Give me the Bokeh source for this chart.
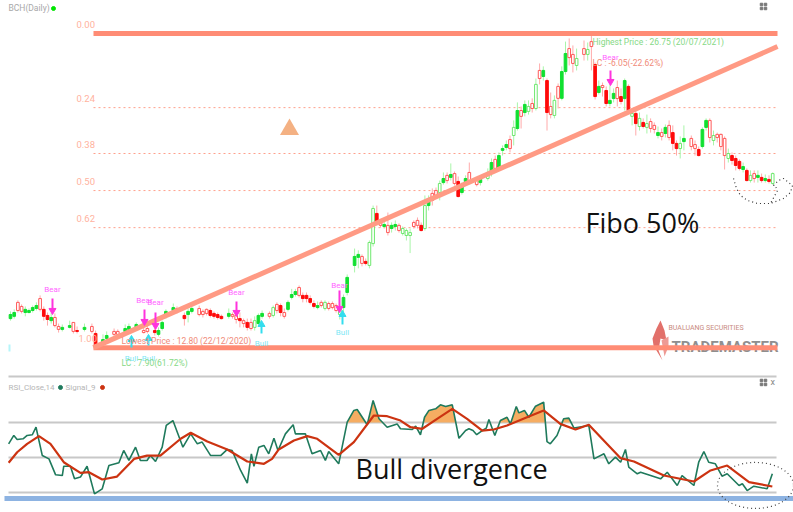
from bokeh.plotting import figure
from bokeh.models import Range1d
from bokeh.core.properties import value
from bokeh.embed import file_html
from bokeh.resources import INLINE
import numpy as np

# ---------- price data (daily candles) ----------
bar_index = [0,1,2,3,4,5,6,7,8,9,10,11,12,13,14,16,17,18,20,22,23,25,26,28,29,31,32,34,36,37,39,40,41,42,44,45,47,48,49,51,52,53,54,55,56,57,59,60,61,62,63,64,65,66,67,68,70,71,72,73,74,75,76,77,78,79,80,81,82,83,84,85,86,87,88,89,90,91,93,94,95,96,97,98,99,100,101,102,103,104,105,106,107,108,109,110,111,112,113,114,115,116,117,118,119,120,121,122,123,124,126,127,129,130,131,132,133,134,135,136,137,138,139,140,141,142,143,144,145,146,147,148,149,150,151,152,153,155,156,157,158,159,160,161,162,163,164,165,166,167,168,169,170,171,172,173,174,175,176,177,178,179,180,181,182,184,185,186,187,188,189,190,191,192,193,194,195,196,197,198,199,200,201,202,203,204,205,206]
red_bars = [2,3,8,9,10,12,13,17,18,22,23,28,29,36,37,39,45,47,51,52,53,54,55,56,57,60,61,62,63,64,65,70,72,73,74,78,79,80,81,82,84,86,87,88,95,96,99,100,102,105,109,110,111,114,115,118,120,121,124,126,131,135,138,141,143,145,146,148,151,152,155,157,158,160,161,164,165,167,169,171,173,174,176,178,179,180,184,185,186,189,191,192,193,195,196,197,199,201,203,205]
opens = [14.27,14.36,14.45,14.41,14.50,14.45,14.58,14.67,14.50,14.50,14.23,14.14,13.78,13.61,13.70,13.78,13.52,13.56,13.70,13.52,13.43,13.16,13.34,13.39,13.39,13.65,13.74,13.83,13.47,13.52,13.56,13.56,13.92,14.41,14.58,14.41,14.23,14.41,14.54,14.27,14.27,14.32,14.45,14.32,14.27,14.19,14.32,14.19,14.05,14.09,13.87,13.92,13.65,13.70,14.23,14.32,14.19,14.23,14.45,14.67,14.19,14.81,15.16,15.29,15.12,15.12,15.12,14.98,14.76,14.67,14.67,14.54,14.54,14.58,14.45,14.27,15.03,15.92,16.85,16.94,16.54,16.63,16.45,17.42,18.76,18.23,18.27,17.91,18.23,18.27,18.0,17.87,17.78,17.78,18.18,18.23,18.23,18.09,19.42,19.34,19.56,19.69,20.31,20.22,20.49,20.09,20.18,19.96,20.31,20.22,20.04,20.27,20.31,21.02,20.76,21.33,21.64,21.82,21.64,22.22,23.33,23.07,23.60,23.29,23.42,23.42,24.75,25.11,24.66,23.15,23.11,23.87,25.06,25.86,25.68,25.42,25.33,25.82,25.82,26.17,25.37,24.40,24.35,24.22,23.78,24.09,23.86,23.95,24.66,24.40,23.07,23.20,22.62,22.80,22.58,22.53,22.49,22.35,22.18,22.58,22.13,22.35,21.87,21.64,22.09,21.73,21.64,21.60,22.49,22.89,22.13,22.0,22.13,21.73,21.33,21.20,21.33,21.20,21.07,20.84,20.67,20.22,20.31,20.45,20.36,20.31,20.27,20.09]
highs = [14.41,14.50,14.9,14.72,14.63,14.54,14.67,14.81,15.12,14.63,14.36,14.36,14.32,13.87,13.83,14.0,13.92,13.74,13.87,13.87,13.56,13.39,13.52,13.65,13.61,13.83,13.87,13.92,13.70,13.83,13.65,13.70,14.0,14.50,14.76,14.63,14.36,14.54,14.63,14.67,14.50,14.54,14.54,14.41,14.36,14.27,14.54,14.36,14.32,14.36,14.09,14.09,14.09,14.19,14.32,14.45,14.41,14.67,14.81,14.76,14.54,14.9,15.41,15.41,15.56,15.25,15.25,15.12,14.9,14.85,14.9,14.9,14.85,14.85,14.76,14.67,15.16,16.05,17.2,17.12,16.94,16.76,17.56,19.11,19.11,18.45,18.40,18.80,18.36,18.45,18.32,18.18,18.09,18.09,18.45,18.58,18.36,19.56,19.56,19.87,19.91,20.22,20.58,20.58,20.98,20.62,20.40,20.13,20.45,21.02,20.31,20.40,20.76,21.20,21.33,21.47,21.78,22.0,22.22,22.89,23.69,23.51,23.78,23.78,23.87,24.75,25.42,25.29,24.75,24.13,24.0,24.53,25.29,26.39,26.53,26.22,26.08,26.44,26.35,26.75,25.46,24.66,24.57,24.40,24.49,24.31,24.66,24.31,24.75,24.49,23.42,23.33,23.24,22.98,23.15,22.98,22.80,22.62,22.53,22.71,22.89,22.67,22.0,22.18,22.67,22.22,22.0,21.73,22.58,22.98,22.98,22.44,22.35,22.31,22.18,21.64,21.47,21.33,21.16,21.02,20.76,20.67,20.67,20.67,20.53,20.49,20.45,20.58]
lows = [14.0,14.09,14.36,14.32,14.19,14.32,14.36,14.45,14.41,14.0,13.78,13.87,13.70,13.47,13.52,13.65,13.43,13.43,13.52,13.43,12.81,12.90,13.07,13.25,13.30,13.39,13.52,13.61,13.43,13.43,13.34,13.30,13.56,14.09,14.36,14.32,13.78,13.92,14.32,14.19,14.14,14.23,14.14,14.09,14.05,14.05,14.09,14.09,13.87,13.70,13.70,13.56,13.56,13.56,13.74,14.09,14.09,14.14,14.32,14.19,14.09,14.41,14.94,15.07,15.03,14.81,14.81,14.72,14.54,14.50,14.58,14.45,14.45,14.50,14.36,14.05,14.23,15.12,16.14,16.32,16.41,16.45,16.32,17.29,18.27,18.14,18.09,17.78,17.91,18.0,17.91,17.78,17.56,17.0,18.09,18.09,17.96,18.0,18.89,19.11,19.42,19.34,20.04,20.09,20.22,20.0,19.47,19.60,20.0,20.09,19.96,20.0,20.22,20.40,20.58,20.67,21.33,21.56,21.47,21.78,22.44,22.53,23.07,23.15,23.24,23.33,24.49,24.66,22.44,22.98,22.98,23.42,23.78,24.93,25.33,25.02,25.11,25.55,25.55,25.11,23.82,24.04,23.95,23.51,23.51,23.69,23.51,23.60,23.33,23.24,22.67,22.22,22.44,22.53,22.31,22.35,22.31,22.09,22.0,22.13,22.0,21.56,21.33,21.20,21.56,21.56,21.33,21.29,21.64,22.44,21.91,21.78,21.91,21.56,20.71,21.02,20.93,20.67,20.67,20.58,20.18,20.13,20.13,20.13,20.13,20.13,20.09,20.04]
closes = [14.09,14.19,14.81,14.63,14.36,14.36,14.45,14.54,14.98,14.19,14.05,14.0,14.14,13.74,13.61,13.70,13.92,13.52,13.61,13.74,12.90,12.99,13.21,13.52,13.52,13.52,13.61,13.70,13.56,13.65,13.47,13.39,13.65,14.19,14.45,14.54,14.09,14.27,14.41,14.54,14.41,14.50,14.23,14.19,14.14,14.09,14.19,14.27,14.23,14.0,14.0,13.70,13.92,14.0,13.87,14.19,14.32,14.58,14.72,14.36,14.36,14.50,15.03,15.16,15.47,14.98,14.98,14.81,14.63,14.58,14.81,14.81,14.76,14.76,14.67,14.54,14.58,15.25,16.45,16.81,16.85,16.54,17.47,18.98,18.36,18.36,18.18,18.23,18.09,18.18,18.23,18.09,18.0,17.91,18.36,18.45,18.0,19.11,19.11,19.65,19.78,20.09,20.13,20.45,20.36,20.53,19.51,19.69,20.18,20.58,20.22,20.13,20.58,20.58,21.16,20.76,21.56,21.69,22.04,22.58,22.53,23.33,23.24,23.51,23.64,24.49,25.11,24.84,23.24,23.51,23.78,24.40,23.87,25.06,26.08,25.82,25.64,26.08,26.04,26.39,23.95,24.13,24.44,23.64,23.64,23.86,24.35,23.73,23.86,23.33,23.20,22.75,22.98,22.62,22.75,22.84,22.67,22.22,22.35,22.31,22.67,21.87,21.64,21.87,21.95,22.09,21.82,21.33,21.73,22.58,22.89,22.22,22.27,22.27,22.09,21.42,21.11,20.89,20.76,20.71,20.22,20.45,20.53,20.36,20.22,20.22,20.18,20.53]

fib_levels = [0.00, 0.24, 0.38, 0.50, 0.62, 1.00]
fib_ratios = [0.0, 0.236, 0.382, 0.5, 0.618, 1.0]
fib_high, fib_low = 26.75, 12.80
trend_bars = [22.4, 207.3]
trend_prices = [12.80, 26.17]

# ---------- RSI data ----------
rsi_bars = [-0.5,0.9,1.8,3.4,4.5,5.9,6.9,8.6,10.4,12.2,14,14.4,16.2,17.3,18.9,20.7,22.7,24.8,26.6,29.3,30.6,32,33.8,35.1,36.9,37.8,39.2,41,42.1,43.9,46.6,48.7,50.5,51.8,54.1,56.8,58.6,59.9,62.2,64,65.1,65.8,67.1,68.5,69.8,71.2,72.3,74.3,76.4,77,79.7,81.5,83.8,85.1,86,88.7,91,92.8,93.7,96.4,98,99.6,101.8,104.5,105.4,108.6,109.5,110.8,111.9,113.1,114.9,116.2,117.6,119.4,121.2,123,123.9,125,126,127.5,128.6,129.3,130.9,132.4,134.2,135.1,136.7,137.4,138.9,140.1,141.9,144.1,145,145.9,147.7,149.5,150.9,152.3,156.3,157.7,160.4,161.7,163.5,164.9,166.2,167.1,169.4,170.3,175.7,177.5,180.2,181.5,184.7,186,187.4,188.7,190.5,192.3,193.7,196.9,197.8,199.1,200.9,204.5,205.9]
rsi_values = [57.8,62.6,60.3,60.7,62.6,63,67.3,51.1,49.2,40.1,39.7,45,45,37.8,38.8,45,29.2,32.1,45.4,47,54,48.3,55.9,48.3,48.3,51.1,47.7,55.9,68.3,71.1,55.9,63.5,57.8,58.8,51.1,51.1,54.6,54,42.6,35.3,52.1,45,55.9,56.9,52.1,61,54,63.5,68.7,63.5,63.5,52.1,54,48.3,53.4,46.4,70.2,76.9,77.4,68.7,82.6,72.1,67.3,69.2,66.4,66,67.9,63,73,76.9,77.8,80.1,79.1,80.1,61,65.4,66.4,65.4,63,65.4,66.8,71.7,62.6,71.1,73,69.2,79.1,75.5,76.9,73,79.3,81.6,59.1,57.8,62.6,72.1,72.5,66.8,68.3,49.2,52.1,46.4,50.2,47.3,54.6,44.5,40.7,41.6,37.8,41.6,34,39.7,34,47.3,53.4,47.3,46.4,39.3,40.7,34,35,31.1,33.6,32.1,40.7]
signal_bars = [-0.5,1.8,4.5,7.7,10.8,14.4,18.9,21.2,24.8,28.8,33.4,36.9,40.5,46,48.7,53.2,58.6,64,68.5,70.7,72.5,76.6,80.2,82.9,88.7,92.8,98.2,101.8,105.4,108.1,111.3,115.3,119.4,123.4,127.5,130.6,134.2,139.6,144.1,148.6,152.7,156.3,164.9,168.5,176.6,184.7,189.2,193.7,199.6,205.9]
signal_values = [47,53,57.8,62.2,57.8,47.3,41.2,41.6,37.4,39.1,49.2,51.1,51.1,60.7,64.1,59.1,54.6,47.7,46.4,49.2,54.6,59.7,62.2,60.7,51.5,58.8,74,73.6,71.1,67.3,66.4,72.1,77.8,72.1,65.4,66,68.3,73,76.9,69.2,66,68.7,49.6,47.7,39.7,36.3,42.6,45.4,35.9,33.4]
rsi_guides = [70, 50, 30]

# ---------- scales: bar index on x, price (left) and RSI (extra) on y ----------
W, H = 793, 512
p = figure(width=W, height=H, output_backend="svg", toolbar_location=None,
           x_range=Range1d(-2.70, 211.62), y_range=Range1d(5.48, 28.215),
           min_border=0, min_border_left=0, min_border_right=0, min_border_top=0, min_border_bottom=0,
           x_axis_location=None, y_axis_location=None)
p.extra_y_ranges = {"rsi": Range1d(18.57, 311.1)}
p.grid.visible = False
p.outline_line_color = None
p.background_fill_color = "white"
p.border_fill_color = "white"


def bx(px):   # picture x -> bar index
    return (px - 10) / 3.7


def by(py):   # picture y -> price scale
    return 28.215 - 0.0444 * py


FONT = "Roboto"


def label(px, py, txt, color, size=9, font=FONT, align="left", style="normal"):
    p.text([bx(px)], [by(py)], text=[txt], text_color=color, text_font_size=f"{size}px",
           text_font=value(font), text_align=align, text_baseline="middle", text_font_style=style)


# watermark
flame_x = [[652, 656, 660, 664, 666, 660, 658, 662, 656, 653], [661, 668, 668, 664]]
flame_y = [[338, 328, 320, 330, 340, 338, 350, 360, 350, 345], [340, 336, 346, 356]]
p.patches([[bx(v) for v in a] for a in flame_x], [[by(v) for v in a] for a in flame_y],
          fill_color=["#e2706a", "#ee9a94"], line_color=None)
label(668, 328, "BUALUANG SECURITIES", "#c98a80", 7)
label(671, 347, "TRADEMASTER", "#8f8f8f", 15, "Roboto", style="bold")

# fibonacci guides
for r in fib_ratios[1:-1]:
    lv = fib_high - r * (fib_high - fib_low)
    p.line([bx(93), bx(777)], [lv, lv], line_color="#ffa08c", line_width=1, line_dash="2 3")

# candles
xs = np.array(bar_index, dtype=float)
o, h, l, c = map(np.array, (opens, highs, lows, closes))
is_red = np.isin(np.array(bar_index), red_bars)
hollow = c > o
wick = np.where(is_red, "#ffaaaa", "#a8f5a8")
edge = np.where(is_red, np.where(hollow, "#ff5a5a", "#ff0a0a"), np.where(hollow, "#6fe86f", "#10e030"))
fill = np.where(hollow, "white", np.where(is_red, "#ff0a0a", "#10e030"))
p.segment(xs, l, xs, h, line_color=wick.tolist(), line_width=1)
p.vbar(x=xs, width=0.72, top=np.maximum(o, c), bottom=np.minimum(o, c),
       fill_color=fill.tolist(), line_color=edge.tolist(), line_width=1)

# thick fibo lines and trend
for lv in (fib_high, fib_low):
    p.line([bx(93), bx(777)], [lv, lv], line_color="#ff8c75", line_width=5)
p.line(trend_bars, trend_prices, line_color="#ff9a84", line_width=5)

for lvl, r in zip(fib_levels, fib_ratios):
    price = fib_high - r * (fib_high - fib_low)
    label(76 if lvl < 1 else 78, (28.215 - price) / 0.0444 - 9, f"{lvl:.2f}", "#ffb29e", 9.5)

# signals
bears = [(52, 289, 298, 313), (144, 300, 309, 324), (155, 302, 312, 328), (236, 292, 301, 315), (339, 285, 290, 311), (610, 57, 70, 84)]
for tx, ty, y0, y1 in bears:
    label(tx, ty, "Bear", "#ff66ff", 8, align="center")
    p.line([bx(tx), bx(tx)], [by(y0), by(y1 - 4)], line_color="#ff33dd", line_width=2)
    p.scatter([bx(tx)], [by(y1 - 3)], marker="inverted_triangle", size=7, color="#ff33dd")
bulls = [(131, 358, 347, 336), (148, 358, 345, 335), (261, 343, 333, 321), (342, 332, 324, 311)]
for tx, ty, y0, y1 in bulls:
    label(tx, ty, "Bull", "#7fe8f5", 8, align="center")
    p.line([bx(tx), bx(tx)], [by(y0), by(y1 + 4)], line_color="#33ddee", line_width=2)
    p.scatter([bx(tx)], [by(y1 + 3)], marker="triangle", size=7, color="#33ddee")
p.line([bx(9), bx(9)], [by(344), by(351)], line_color="#b5f5fa", line_width=2)

label(121, 341, "Lowest Price : 12.80 (22/12/2020)", "#f08a78", 8.5)
label(121, 363, "LC : 7.90(61.72%)", "#86d986", 8.5)
label(592, 42, "Highest Price : 26.75 (20/07/2021)", "#86d986", 8.5)
label(592, 63, "LC : -6.05(-22.62%)", "#f08a78", 8.5)
label(8, 8, "BCH(Daily)", "#a8a8a8", 8.5)
p.scatter([bx(53)], [by(8)], marker="circle", size=4, color="#00e600")
p.scatter([bx(289)], [by(129)], marker="triangle", size=19, color="#f4b183", line_color=None)
label(585, 222, "Fibo 50%", "#111111", 27, "Open Sans")
label(355, 468, "Bull divergence", "#111111", 27, "Open Sans")

# freehand circle round the last candles
circ_x = [733, 736, 740, 747, 757, 770, 777, 775, 773, 778, 783, 792, 790, 783, 770]
circ_y = [178, 188, 195, 200, 203, 203, 190, 186, 185, 180, 178, 185, 192, 198, 203]
p.line([bx(v) for v in circ_x], [by(v) for v in circ_y], line_color="#333333", line_width=1.2, line_dash="1 3")

# corner icons
for ix, iy in ((763, 6), (763, 382)):
    p.scatter([bx(ix - 2), bx(ix + 2), bx(ix - 2), bx(ix + 2)], [by(iy - 2), by(iy - 2), by(iy + 2), by(iy + 2)],
              marker="square", size=2.5, color="#777777")
label(770, 382, "x", "#888888", 9)

# ---------- RSI pane ----------
p.line([bx(8), bx(776)], [by(376), by(376)], line_color="#c8c8c8", line_width=2)
for g in rsi_guides:
    p.line([bx(8), bx(776)], [g, g], line_color="#c8c8c8", line_width=2, y_range_name="rsi")
dense_x = np.linspace(rsi_bars[0], rsi_bars[-1], 3000)
dense_rsi = np.interp(dense_x, rsi_bars, rsi_values)
p.varea(dense_x, np.full_like(dense_x, rsi_guides[0]), np.maximum(dense_rsi, rsi_guides[0]),
        fill_color="#f6ad62", y_range_name="rsi")
p.line(rsi_bars, rsi_values, line_color="#1f7a5c", line_width=1.6, y_range_name="rsi")
p.line(signal_bars, signal_values, line_color="#cc3311", line_width=2.2, y_range_name="rsi")
p.line([bx(4), bx(793)], [by(498), by(498)], line_color="#8db3e2", line_width=5)

label(8, 387, "RSI_Close,14", "#b5b5b5", 8)
p.scatter([bx(60)], [by(387)], marker="circle", size=4, color="#1f7a5c")
label(65, 387, "Signal_9", "#b5b5b5", 8)
p.scatter([bx(102)], [by(387)], marker="circle", size=4, color="#cc3311")
p.ellipse([bx(755)], [by(485)], width=[76 / 3.7], height=[46 * 0.0444], fill_color=None,
          line_color="#444444", line_width=1.2, line_dash="1 3")

open("out.html", "w").write(file_html(p, INLINE))
